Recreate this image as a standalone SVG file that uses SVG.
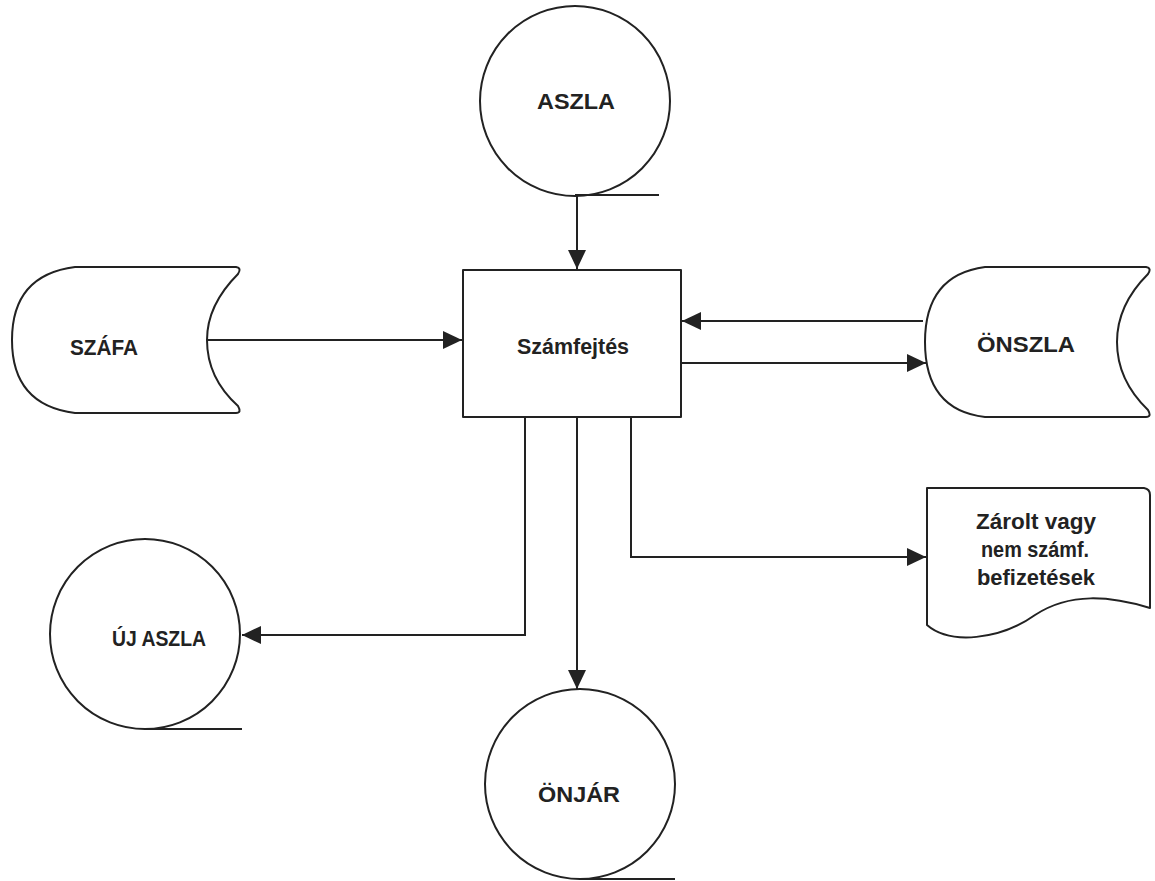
<svg xmlns="http://www.w3.org/2000/svg" width="1155" height="881" viewBox="0 0 1155 881">
<style>
.s{fill:#fff;stroke:#222;stroke-width:2;stroke-linejoin:round}
.t{font-family:"Liberation Sans",Arial,sans-serif;font-weight:bold;font-size:22px;fill:#222;text-anchor:middle}
.c{fill:none;stroke:#222;stroke-width:2}
</style>
<defs>
<marker id="ah" markerUnits="userSpaceOnUse" markerWidth="20" markerHeight="18" refX="19" refY="9" orient="auto">
<path d="M0,0 L19,9 L0,18 Z" fill="#222"/>
</marker>
</defs>
<rect width="1155" height="881" fill="#fff"/>
<g id="connectors">
<path class="c" d="M577,195 L577,269" marker-end="url(#ah)"/>
<path class="c" d="M207,340 L462,340" marker-end="url(#ah)"/>
<path class="c" d="M923,321 L682,321" marker-end="url(#ah)"/>
<path class="c" d="M681,363 L926,363" marker-end="url(#ah)"/>
<path class="c" d="M631,418 L631,557 L926,557" marker-end="url(#ah)"/>
<path class="c" d="M525,418 L525,635 L242,635" marker-end="url(#ah)"/>
<path class="c" d="M577,418 L577,689" marker-end="url(#ah)"/>
</g>
<g id="aszla">
<circle class="s" cx="575" cy="101" r="95"/>
<line class="c" x1="575" y1="195" x2="659" y2="195"/>
<text class="t" x="576" y="109" textLength="78" lengthAdjust="spacingAndGlyphs">ASZLA</text>
</g>
<g id="szamfejtes">
<rect class="s" x="463" y="270" width="218" height="147"/>
<text class="t" x="573" y="354" textLength="112" lengthAdjust="spacingAndGlyphs">Számfejtés</text>
</g>
<g id="szafa">
<path class="s" d="M75,267 L236,267 Q242,268 238,274 Q207,305 207,340 Q207,378 238,406 Q242,413 236,413 L75,413 Q12,405 12,340 Q12,275 75,267 Z"/>
<text class="t" x="104" y="355" textLength="68" lengthAdjust="spacingAndGlyphs">SZÁFA</text>
</g>
<g id="onszla">
<path class="s" d="M985,267 L1146,267 Q1152,268 1148,274 Q1117,305 1117,342 Q1117,380 1148,410 Q1152,417 1146,417 L985,417 Q925,410 925,342 Q925,275 985,267 Z"/>
<text class="t" x="1026" y="352" textLength="98" lengthAdjust="spacingAndGlyphs">ÖNSZLA</text>
</g>
<g id="zarolt">
<path class="s" d="M927,488 L1144,488 Q1150,489 1150,495 L1150,608 C1110,596 1070,592 1035,615 C1000,640 950,645 927,625 Z"/>
<text class="t" x="1036" y="529" textLength="120" lengthAdjust="spacingAndGlyphs">Zárolt vagy</text>
<text class="t" x="1035" y="557" textLength="108" lengthAdjust="spacingAndGlyphs">nem számf.</text>
<text class="t" x="1036" y="585" textLength="118" lengthAdjust="spacingAndGlyphs">befizetések</text>
</g>
<g id="ujaszla">
<circle class="s" cx="145" cy="634" r="95"/>
<line class="c" x1="145" y1="729" x2="242" y2="729"/>
<text class="t" x="159" y="646" textLength="94" lengthAdjust="spacingAndGlyphs">ÚJ ASZLA</text>
</g>
<g id="onjar">
<circle class="s" cx="580" cy="784" r="95"/>
<line class="c" x1="580" y1="879" x2="675" y2="879"/>
<text class="t" x="579" y="802" textLength="82" lengthAdjust="spacingAndGlyphs">ÖNJÁR</text>
</g>
</svg>
